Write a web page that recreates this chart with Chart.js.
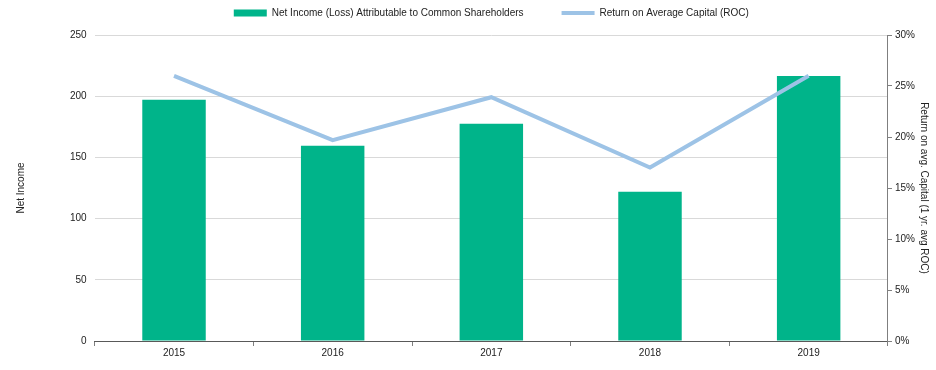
<!DOCTYPE html>
<html>
<head>
<meta charset="utf-8">
<script src="https://cdn.jsdelivr.net/npm/chart.js@4.4.0/dist/chart.umd.min.js"></script>
<style>
   html, body { margin: 0; padding: 0; background: #fff; }
   #wrap { width: 936px; height: 370px; }
</style>
</head>
<body>
<div id="wrap"><canvas id="chart-combo"></canvas></div>
<script>
// values
var years = ["2015", "2016", "2017", "2018", "2019"];
var netIncome = [197, 159.5, 177.5, 122, 216.5];
var roc = [26.0, 19.7, 23.9, 17.0, 26.0];
var leftTicks = [0, 50, 100, 150, 200, 250];
var rightTicks = [0, 5, 10, 15, 20, 25, 30];

var fontBase = {
   size: 10,
   family: "Liberation Sans, Arial, sans-serif",
};

// wide gap between legend items but keep the legend band short
var legendHeight = {
   id: "legendHeight",
   beforeLayout: function (chart) {
      var lg = chart.legend;
      if (lg && !lg._patched) {
         var fit = lg.fit;
         lg.fit = function () {
            fit.call(this);
            this.height = 65;
         };
         lg._patched = true;
      }
   },
};

var ctx = document.getElementById("chart-combo").getContext("2d");

window.grafica = new Chart(ctx, {
   plugins: [legendHeight],
   data: {
      labels: years,
      datasets: [
         {
            type: "bar",
            label: "Net Income (Loss) Attributable to Common Shareholders",
            data: netIncome,
            backgroundColor: "#00B48A",
            borderWidth: 0,
            barPercentage: 0.4,
            categoryPercentage: 1,
            yAxisID: "y",
            pointStyle: "rect",
            order: 2,
         },
         {
            type: "line",
            label: "Return on Average Capital (ROC)",
            data: roc,
            borderColor: "#9DC3E6",
            backgroundColor: "#9DC3E6",
            borderWidth: 4,
            pointRadius: 0,
            tension: 0,
            yAxisID: "y1",
            pointStyle: "line",
            order: 1,
         },
      ],
   },
   options: {
      responsive: true,
      maintainAspectRatio: false,
      animation: false,
      layout: {
         padding: { left: 15, right: 1, top: -30, bottom: 10 },
      },
      plugins: {
         legend: {
            display: true,
            position: "top",
            fullSize: false,
            labels: {
               usePointStyle: true,
               pointStyleWidth: 33,
               boxHeight: 7,
               padding: 38,
               color: "#222",
               font: fontBase,
               sort: function (a, b) {
                  return a.datasetIndex - b.datasetIndex;
               },
            },
         },
         tooltip: { enabled: false },
      },
      scales: {
         x: {
            offset: true,
            grid: {
               offset: true,
               display: true,
               drawOnChartArea: false,
               drawTicks: true,
               tickLength: 5,
               color: "#7f7f7f",
            },
            border: { display: true, color: "#595959", width: 1 },
            ticks: {
               color: "#222",
               padding: 1,
               font: fontBase,
            },
         },
         y: {
            position: "left",
            min: 0,
            max: 250,
            afterBuildTicks: function (axis) {
               axis.ticks = leftTicks.map(function (v) { return { value: v }; });
            },
            grid: {
               display: true,
               drawTicks: false,
               color: "#d9d9d9",
            },
            border: { display: false },
            ticks: {
               color: "#222",
               padding: 8,
               font: fontBase,
            },
            title: {
               display: true,
               text: "Net Income",
               color: "#222",
               padding: { top: 0, bottom: 35 },
               font: fontBase,
            },
         },
         y1: {
            position: "right",
            min: 0,
            max: 30,
            afterBuildTicks: function (axis) {
               axis.ticks = rightTicks.map(function (v) { return { value: v }; });
            },
            grid: {
               display: true,
               drawOnChartArea: false,
               drawTicks: true,
               tickLength: 4,
               color: "#7f7f7f",
            },
            border: { display: true, color: "#7f7f7f", width: 1 },
            ticks: {
               color: "#222",
               padding: 3,
               font: fontBase,
               callback: function (value) {
                  return value + "%";
               },
            },
            title: {
               display: true,
               text: "Return on avg. Capital (1 yr. avg ROC)",
               color: "#222",
               padding: { top: 5, bottom: 0 },
               font: fontBase,
            },
         },
      },
   },
});
</script>
</body>
</html>
